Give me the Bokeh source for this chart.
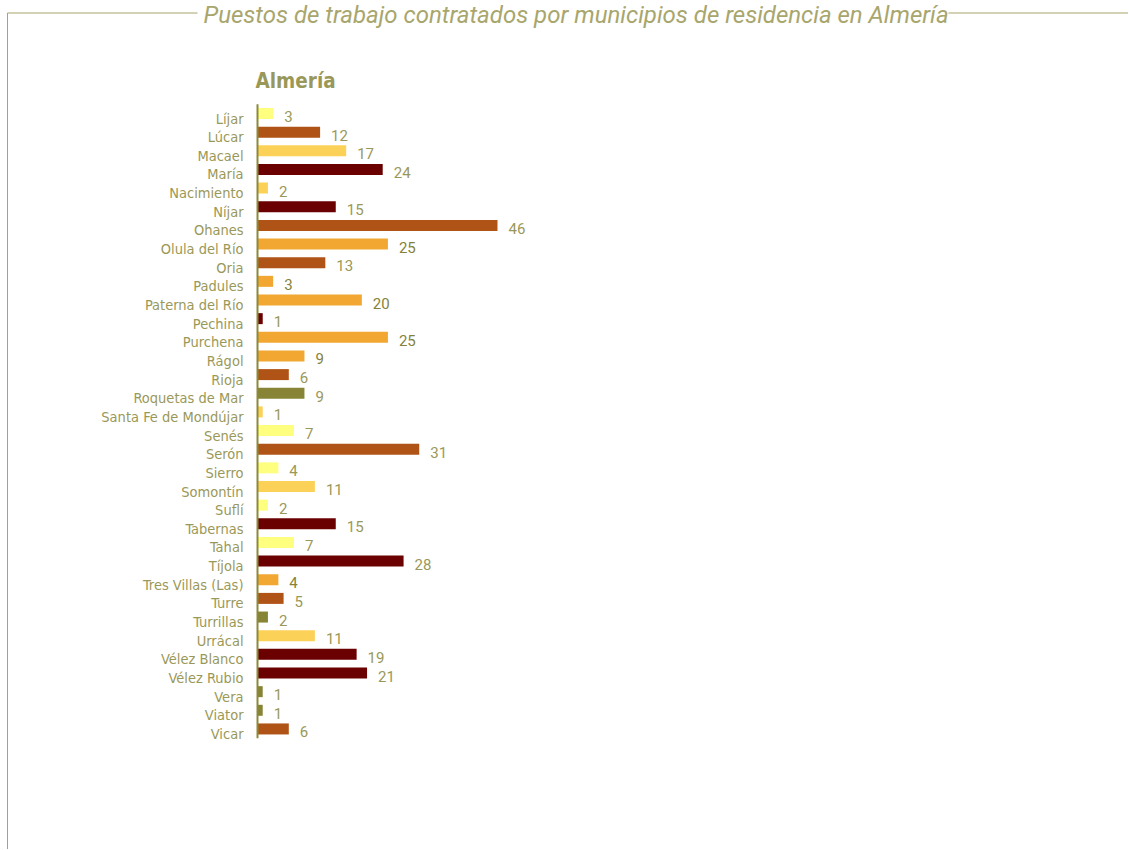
from bokeh.plotting import figure
from bokeh.models import Range1d, ColumnDataSource, Label
from bokeh.core.properties import value
from bokeh.embed import file_html
from bokeh.resources import INLINE

title_text = "Puestos de trabajo contratados por municipios de residencia en Almería"
subtitle_text = "Almería"

categories = ["Líjar", "Lúcar", "Macael", "María", "Nacimiento", "Níjar", "Ohanes",
              "Olula del Río", "Oria", "Padules", "Paterna del Río", "Pechina",
              "Purchena", "Rágol", "Rioja", "Roquetas de Mar", "Santa Fe de Mondújar",
              "Senés", "Serón", "Sierro", "Somontín", "Suflí", "Tabernas", "Tahal",
              "Tíjola", "Tres Villas (Las)", "Turre", "Turrillas", "Urrácal",
              "Vélez Blanco", "Vélez Rubio", "Vera", "Viator", "Vicar"]
values = [3, 12, 17, 24, 2, 15, 46, 25, 13, 3, 20, 1, 25, 9, 6, 9, 1, 7, 31, 4,
          11, 2, 15, 7, 28, 4, 5, 2, 11, 19, 21, 1, 1, 6]
color_keys = ["Y", "B", "G", "M", "G", "M", "B", "O", "B", "O", "O", "M", "O", "O",
              "B", "V", "G", "Y", "B", "Y", "G", "Y", "M", "Y", "M", "O", "B", "V",
              "G", "M", "M", "V", "V", "B"]

palette = {"Y": "#FFFF7F", "B": "#AF5316", "G": "#FCD158", "M": "#6A0000",
           "O": "#F2A733", "V": "#878535"}
TEXT = "#9A9858"
TEXT_DARK = "#858238"
TITLE = "#A8A66C"
FRAME = "#A8A46A"
AXIS = "#8C8A3A"
FONT_A = "DejaVu Sans Condensed"
FONT_B = "Roboto"

W, H = 1128, 849
X0, K = 257.0, 5.217      # x pixel of value 0, pixels per unit
ROW0, S = 113.0, 18.65    # y pixel of first row, pixels per row


def px2x(px):
    return (px - X0) / K


def py2y(py):
    return (py - ROW0) / S


ys = list(range(len(categories)))
src = ColumnDataSource(dict(
    y=ys, v=values, cat=categories,
    color=[palette[k] for k in color_keys],
    lab=[str(v) for v in values],
    labcolor=[TEXT_DARK if k == "O" else TEXT for k in color_keys],
))

p = figure(width=W, height=H, output_backend="svg", toolbar_location=None,
           x_range=Range1d(px2x(0), px2x(W)), y_range=Range1d(py2y(H), py2y(0)),
           x_axis_type=None, y_axis_type=None, min_border=0,
           background_fill_color="white", border_fill_color="white")
p.grid.visible = False
p.outline_line_color = None

p.hbar(y="y", left=0, right="v", height=0.59, fill_color="color",
       line_color=None, source=src)

# axis line
p.segment(x0=[0], y0=[-0.5], x1=[0], y1=[len(categories) - 0.5],
          line_color=AXIS, line_width=2)

# category labels
p.text(x=0, y="y", text="cat", source=src, x_offset=-14, y_offset=5,
       text_align="right", text_baseline="alphabetic", text_color=TEXT,
       text_font=value(FONT_A), text_font_size="14.5px")

# value labels
p.text(x="v", y="y", text="lab", source=src, x_offset=11, y_offset=3,
       text_align="left", text_baseline="alphabetic", text_color="labcolor",
       text_font=value(FONT_B), text_font_size="15px")

# frame
ty = py2y(12.5)
p.segment(x0=[px2x(7), px2x(948), px2x(7)], y0=[ty, ty, ty],
          x1=[px2x(197), px2x(W + 10), px2x(7)], y1=[ty, ty, py2y(H + 10)],
          line_color=FRAME, line_width=1)

p.add_layout(Label(x=px2x(203), y=py2y(14), text=title_text, text_font=FONT_B,
                   text_font_style="italic", text_font_size="24px",
                   text_color=TITLE, text_baseline="alphabetic", text_align="left"))
p.add_layout(Label(x=px2x(255), y=py2y(80), text=subtitle_text, text_font=FONT_A,
                   text_font_style="bold", text_font_size="20.5px",
                   text_color=TEXT, text_baseline="alphabetic", text_align="left"))

open("out.html", "w").write(file_html(p, INLINE))
